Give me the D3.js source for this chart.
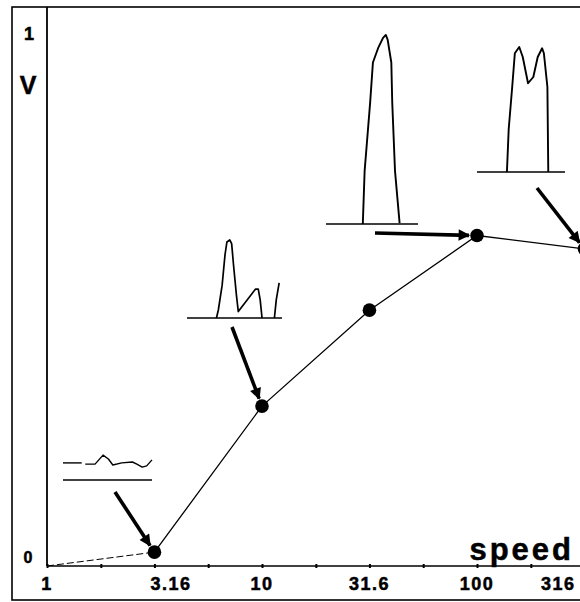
<!DOCTYPE html>
<html>
<head>
<meta charset="utf-8">
<script src="https://cdn.jsdelivr.net/npm/d3@7"></script>
<style>
  body { margin: 0; background: #fff; }
  svg { display: block; }
  text { font-family: "Liberation Sans", Arial, sans-serif; font-weight: bold; fill: #000; stroke: #000; stroke-width: 0.5px; }
</style>
</head>
<body>
<div id="chart"></div>
<script>
const width = 580
const height = 602

// data
const speeds = [1, 3.16, 10, 31.6, 100, 316]
const vValues = [0, 0.026, 0.30, 0.48, 0.62, 0.595]
const tickLabels = ["1", "3.16", "10", "31.6", "100", "316"]
const minorTicks = [1, 1.78, 3.16, 5.62, 10, 17.8, 31.6, 56.2, 100, 178]

// inset waveforms: [t along baseline 0..1, amplitude 0..1]
const waveLow = [
    [[0, .57], [.21, .57]],
    [[.25, .53], [.36, .53], [.45, .83], [.51, .70], [.56, .50], [.66, .57], [.78, .60], [.83, .53], [.89, .43], [.94, .47], [1, .67]]
]
const waveMid = [
    [[.31, 0], [.33, .10], [.37, .41], [.40, .79], [.42, .95], [.45, .975], [.47, .93], [.49, .66], [.52, .29], [.54, .08], [.72, .36], [.75, .36], [.77, .23], [.79, 0]],
    [[.92, 0], [.94, .23], [.97, .44]]
]
const waveHigh = [
    [[.40, 0], [.42, .28], [.48, .64], [.51, .85], [.57, .93], [.62, .98], [.65, .995], [.67, .97], [.71, .85], [.72, .64], [.75, .28], [.80, .005]]
]
const waveTop = [
    [[.34, 0], [.36, .34], [.40, .68], [.43, .95], [.48, 1], [.52, .92], [.58, .71], [.64, .76], [.69, .92], [.74, .99], [.76, .95], [.80, .68], [.81, 0]]
]

const svg = d3.select("div#chart").append("svg").attr("width", width).attr("height", height)

svg.append("defs").append("marker")
    .attr("id", "head")
    .attr("viewBox", "0 0 10 10")
    .attr("refX", 9).attr("refY", 5)
    .attr("markerWidth", 4.4).attr("markerHeight", 3.2)
    .attr("markerUnits", "strokeWidth")
    .attr("orient", "auto")
    .append("path").attr("d", "M0,0 L10,5 L0,10 z").attr("fill", "#000")

const x = d3.scaleLog().domain([1, 316.23]).range([47, 584.5])
const y = d3.scaleLinear().domain([0, 1]).range([566, 33])

// frame
svg.append("rect")
    .attr("x", 12).attr("y", 7).attr("width", 600).attr("height", 593)
    .attr("fill", "none").attr("stroke", "#000").attr("stroke-width", 1.6)

// y axis line
svg.append("line")
    .attr("x1", 47).attr("x2", 47).attr("y1", 7).attr("y2", y(0))
    .attr("stroke", "#000").attr("stroke-width", 1.8)

// x axis
const xAxis = d3.axisBottom(x).tickValues(minorTicks).tickSize(2).tickFormat("")
const xAxisGroup = svg.append("g").attr("transform", `translate(0, ${y(0)})`).call(xAxis)
xAxisGroup.select(".domain").attr("d", `M47,0H${width}`).attr("stroke-width", 1.6)
xAxisGroup.selectAll(".tick line").attr("y1", -2).attr("y2", 2).attr("stroke-width", 2)

xAxisGroup.selectAll(".lbl").data(speeds).enter().append("text")
    .attr("class", "lbl")
    .attr("x", (d, i) => i == 1 ? x(d) - 4 : i == 5 ? x(d) - 9 : x(d))
    .attr("y", 24)
    .attr("text-anchor", (d, i) => i == 1 ? "start" : i == 5 ? "end" : "middle")
    .style("font-size", "18px").style("letter-spacing", "1.5px")
    .text((d, i) => tickLabels[i])

// y labels
svg.append("text").attr("x", 29).attr("y", 40).attr("text-anchor", "middle").style("font-size", "18px").text("1")
svg.append("text").attr("x", 28).attr("y", 94).attr("text-anchor", "middle").style("font-size", "25px").text("V")
svg.append("text").attr("x", 28).attr("y", 563).attr("text-anchor", "middle").style("font-size", "16px").text("0")

svg.append("text").attr("x", 574).attr("y", 560).attr("text-anchor", "end")
    .style("font-size", "31px").style("letter-spacing", "3px").text("speed")

// data line
const pts = speeds.map((s, i) => [s, vValues[i]])
const line = d3.line().x(d => x(d[0])).y(d => y(d[1]))

svg.append("path").attr("d", line(pts.slice(0, 2)))
    .attr("fill", "none").attr("stroke", "#000").attr("stroke-width", 1).attr("stroke-dasharray", "7,3")
svg.append("path").attr("d", line(pts.slice(1)))
    .attr("fill", "none").attr("stroke", "#000").attr("stroke-width", 1.3)

svg.selectAll(".dot").data(pts.slice(1)).enter().append("circle")
    .attr("class", "dot")
    .attr("cx", d => x(d[0])).attr("cy", d => y(d[1])).attr("r", 6.8)
    .attr("fill", "#000")

// insets
const insets = [
    {wave: waveLow, x0: 63, x1: 152, base: 480, h: 30, sw: 1.4},
    {wave: waveMid, x0: 187, x1: 282, base: 318, h: 80, sw: 1.7},
    {wave: waveHigh, x0: 326, x1: 418, base: 224, h: 190, sw: 1.9},
    {wave: waveTop, x0: 477, x1: 565, base: 172, h: 125, sw: 1.9}
]
insets.forEach(ins => {
    const ix = d3.scaleLinear().domain([0, 1]).range([ins.x0, ins.x1])
    const iy = d3.scaleLinear().domain([0, 1]).range([ins.base, ins.base - ins.h])
    svg.append("line")
        .attr("x1", ix(0)).attr("x2", ix(1)).attr("y1", iy(0)).attr("y2", iy(0))
        .attr("stroke", "#000").attr("stroke-width", 1.5)
    const wl = d3.line().x(d => ix(d[0])).y(d => iy(d[1]))
    ins.wave.forEach(seg => {
        svg.append("path").attr("d", wl(seg))
            .attr("fill", "none").attr("stroke", "#000").attr("stroke-width", ins.sw)
            .attr("stroke-linejoin", "round")
    })
})

// arrows pointing at dots
const arrows = [
    {from: [115, 492], to: 1},
    {from: [232, 327], to: 2},
    {from: [375, 233], to: 4},
    {from: [537, 188], to: 5}
]
arrows.forEach(a => {
    const cx = x(pts[a.to][0]), cy = y(pts[a.to][1])
    const dx = cx - a.from[0], dy = cy - a.from[1]
    const len = Math.sqrt(dx * dx + dy * dy)
    const k = (len - 8) / len
    svg.append("line")
        .attr("x1", a.from[0]).attr("y1", a.from[1])
        .attr("x2", a.from[0] + dx * k).attr("y2", a.from[1] + dy * k)
        .attr("stroke", "#000").attr("stroke-width", 3.6)
        .attr("marker-end", "url(#head)")
})
</script>
</body>
</html>
